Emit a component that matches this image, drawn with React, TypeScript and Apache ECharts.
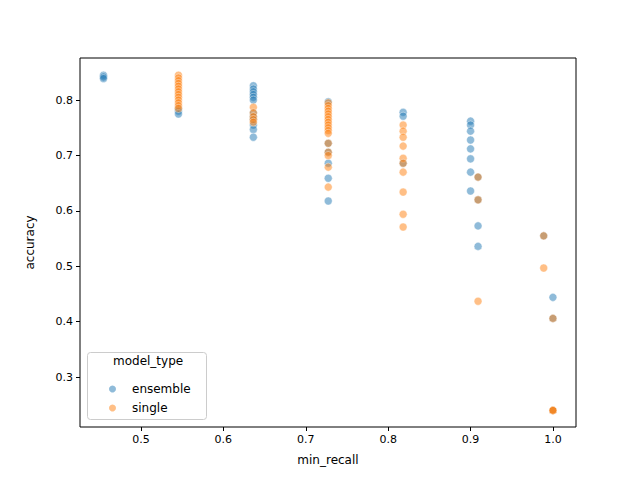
import { useEffect, useRef } from 'react';
import * as echarts from 'echarts';

// [min_recall, accuracy]
const ensemble: number[][] = [
  [0.4545, 0.845], [0.4545, 0.842], [0.4545, 0.839],
  [0.5455, 0.785], [0.5455, 0.78], [0.5455, 0.775],
  [0.6364, 0.826], [0.6364, 0.82], [0.6364, 0.815], [0.6364, 0.81], [0.6364, 0.805], [0.6364, 0.80],
  [0.6364, 0.777], [0.6364, 0.77], [0.6364, 0.765], [0.6364, 0.755], [0.6364, 0.747], [0.6364, 0.733],
  [0.7273, 0.797], [0.7273, 0.722], [0.7273, 0.706], [0.7273, 0.686], [0.7273, 0.659], [0.7273, 0.618],
  [0.8182, 0.778], [0.8182, 0.771], [0.8182, 0.686],
  [0.9, 0.762], [0.9, 0.755], [0.9, 0.744], [0.9, 0.728], [0.9, 0.712], [0.9, 0.694], [0.9, 0.670], [0.9, 0.636],
  [0.9091, 0.661], [0.9091, 0.62], [0.9091, 0.573], [0.9091, 0.536],
  [0.9888, 0.555],
  [1.0, 0.444], [1.0, 0.406], [1.0, 0.24],
];
const single: number[][] = [
  [0.5455, 0.845], [0.5455, 0.84], [0.5455, 0.835], [0.5455, 0.83], [0.5455, 0.825], [0.5455, 0.82],
  [0.5455, 0.815], [0.5455, 0.81], [0.5455, 0.805], [0.5455, 0.80], [0.5455, 0.795], [0.5455, 0.79], [0.5455, 0.785],
  [0.6364, 0.787], [0.6364, 0.777], [0.6364, 0.77], [0.6364, 0.765], [0.6364, 0.76],
  [0.7273, 0.795], [0.7273, 0.79], [0.7273, 0.785], [0.7273, 0.78], [0.7273, 0.775], [0.7273, 0.77], [0.7273, 0.765],
  [0.7273, 0.76], [0.7273, 0.755], [0.7273, 0.75], [0.7273, 0.745], [0.7273, 0.74],
  [0.7273, 0.722], [0.7273, 0.706], [0.7273, 0.70], [0.7273, 0.679], [0.7273, 0.643],
  [0.8182, 0.755], [0.8182, 0.744], [0.8182, 0.733], [0.8182, 0.717], [0.8182, 0.695], [0.8182, 0.686],
  [0.8182, 0.67], [0.8182, 0.634], [0.8182, 0.594], [0.8182, 0.571],
  [0.9091, 0.661], [0.9091, 0.62], [0.9091, 0.437],
  [0.9888, 0.555], [0.9888, 0.497],
  [1.0, 0.406], [1.0, 0.24], [1.0, 0.24], [1.0, 0.24],
];
const xTicks = [0.5, 0.6, 0.7, 0.8, 0.9, 1.0];
const yTicks = [0.3, 0.4, 0.5, 0.6, 0.7, 0.8];

const font = 'DejaVu Sans';

export default function App() {
  const ref = useRef<HTMLDivElement>(null);

  useEffect(() => {
    if (!ref.current) return;
    const chart = echarts.init(ref.current, null, { renderer: 'svg' });
    const pointStyle = (color: string) => ({
      color,
      opacity: 0.5,
      borderColor: '#fff',
      borderWidth: 0.8,
    });
    chart.setOption({
      animation: false,
      textStyle: { fontFamily: font },
      grid: { left: 80, right: 64, top: 58, bottom: 53, show: true, borderColor: '#000', borderWidth: 1 },
      xAxis: {
        type: 'value', min: 0.426, max: 1.028,
        name: 'min_recall', nameLocation: 'middle', nameGap: 27,
        nameTextStyle: { fontSize: 12, color: '#000', fontFamily: font },
        axisLine: { show: false }, splitLine: { show: false },
        axisTick: { show: true, customValues: xTicks, lineStyle: { color: '#000' }, length: 4 },
        axisLabel: { customValues: xTicks, formatter: (v: number) => v.toFixed(1), color: '#000', fontSize: 11, margin: 7, fontFamily: font },
      },
      yAxis: {
        type: 'value', min: 0.21, max: 0.876,
        name: 'accuracy', nameLocation: 'middle', nameGap: 44,
        nameTextStyle: { fontSize: 12, color: '#000', fontFamily: font },
        axisLine: { show: false }, splitLine: { show: false },
        axisTick: { show: true, customValues: yTicks, lineStyle: { color: '#000' }, length: 4 },
        axisLabel: { customValues: yTicks, formatter: (v: number) => v.toFixed(1), color: '#000', fontSize: 11, margin: 7, fontFamily: font },
      },
      legend: {
        orient: 'vertical', left: 102, top: 378, itemGap: 7,
        itemWidth: 9, itemHeight: 9,
        textStyle: { fontSize: 12, color: '#000', fontFamily: font, padding: [0, 0, 0, 10] },
        data: [
          { name: 'ensemble', icon: 'circle', itemStyle: { color: '#8fbbd9', opacity: 1 } },
          { name: 'single', icon: 'circle', itemStyle: { color: '#ffbf86', opacity: 1 } },
        ],
      },
      graphic: [
        { type: 'rect', left: 87, top: 352, shape: { width: 119, height: 67, r: 3 }, style: { fill: 'rgba(255,255,255,0.8)', stroke: '#ccc', lineWidth: 1 }, z: 0 },
        { type: 'text', left: 113, top: 355, style: { text: 'model_type', fontSize: 12, fill: '#000', fontFamily: font } },
      ],
      series: [
        { name: 'ensemble', type: 'scatter', data: ensemble, symbolSize: 8, itemStyle: pointStyle('#1f77b4') },
        { name: 'single', type: 'scatter', data: single, symbolSize: 8, itemStyle: pointStyle('#ff7f0e') },
      ],
    });
    return () => chart.dispose();
  }, []);

  return <div ref={ref} style={{ width: 640, height: 480, margin: -8 }} />;
}
